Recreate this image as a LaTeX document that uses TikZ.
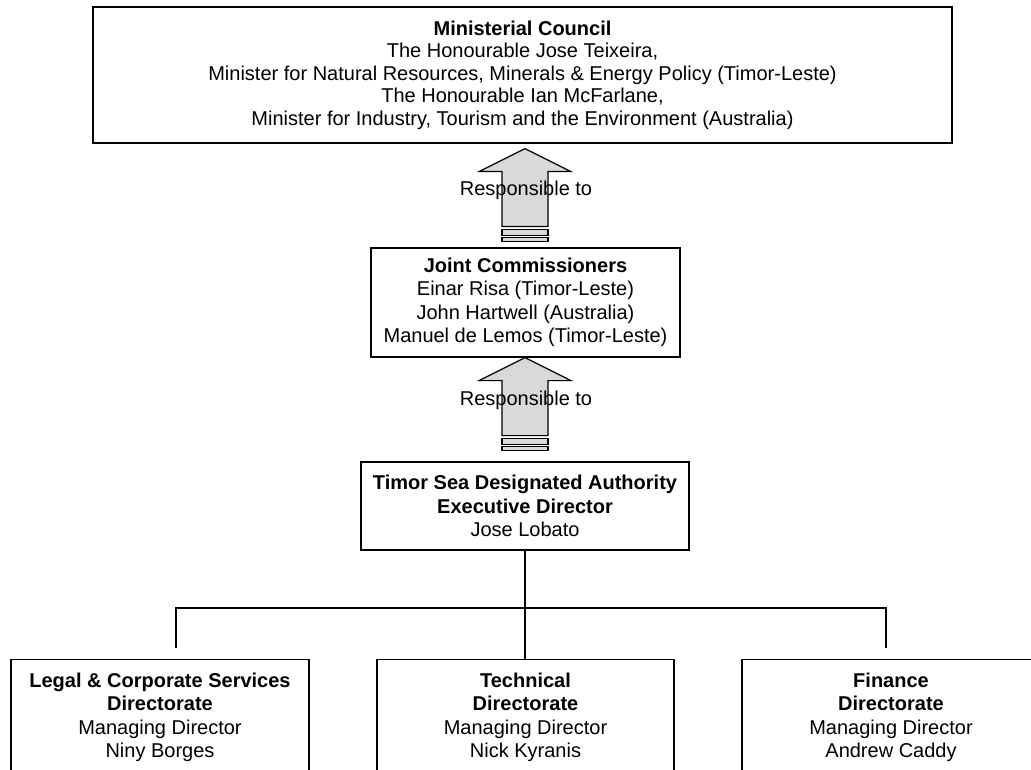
\documentclass[tikz,border=0pt]{standalone}
\usepackage{fontspec}
\setmainfont{Liberation Sans}
\usetikzlibrary{calc}
\tikzset{
  box/.style={draw=black, line width=1.2pt, align=center, inner sep=0pt, font=\fontsize{20}{23.5}\selectfont},
  lbl/.style={inner sep=0pt, font=\fontsize{20}{23.5}\selectfont},
  blockarrow/.style={draw=black, line width=1.2pt, fill=black!15, line join=miter},
  orgline/.style={draw=black, line width=1.2pt}
}
\newcommand{\respArrow}{%
  \path[blockarrow] (0,0) -- (-46,23) -- (-23,23) -- (-23,78) -- (23,78) -- (23,23) -- (46,23) -- cycle;
  \path[blockarrow] (-23,81) rectangle (23,87);
  \path[blockarrow] (-23,89) rectangle (23,93);
}
\begin{document}
\begin{tikzpicture}[x=1pt,y=-1pt]
\clip (0,0) rectangle (1031,770);
\fill[white] (0,0) rectangle (1031,770);

\node[box, font=\fontsize{20}{22.5}\selectfont, minimum width=859pt, minimum height=136pt] (mc) at (522.5,75)
 {\textbf{Ministerial Council}\\
  The Honourable Jose Teixeira,\\
  Minister for Natural Resources, Minerals \& Energy Policy (Timor-Leste)\\
  The Honourable Ian McFarlane,\\
  Minister for Industry, Tourism and the Environment (Australia)};

\node[box, minimum width=309pt, minimum height=109pt] (jc) at (525.5,302.5)
 {\textbf{Joint Commissioners}\\
  Einar Risa (Timor-Leste)\\
  John Hartwell (Australia)\\
  Manuel de Lemos (Timor-Leste)};

\node[box, minimum width=328pt, minimum height=88pt] (ts) at (525,506)
 {\textbf{Timor Sea Designated Authority}\\
  \textbf{Executive Director}\\
  Jose Lobato};

\coordinate (a1) at ($(mc.south)+(2.5,5)$);
\coordinate (a2) at ($(jc.south)+(-0.5,0)$);
\begin{scope}[shift={(a1)}]\respArrow\end{scope}
\begin{scope}[shift={(a2)}]\respArrow\end{scope}
\node[lbl] (r1) at (526,190) {Responsible to};
\node[lbl] (r2) at (526,400) {Responsible to};

\node[box, anchor=north, minimum width=298pt, minimum height=115pt] (legal) at (160,659)
 {\textbf{Legal \& Corporate Services}\\
  \textbf{Directorate}\\
  Managing Director\\
  Niny Borges};
\node[box, anchor=north, minimum width=297pt, minimum height=115pt] (tech) at (525.5,659)
 {\textbf{Technical}\\
  \textbf{Directorate}\\
  Managing Director\\
  Nick Kyranis};
\node[box, anchor=north, minimum width=298pt, minimum height=115pt] (fin) at (891,659)
 {\textbf{Finance}\\
  \textbf{Directorate}\\
  Managing Director\\
  Andrew Caddy};

\coordinate (hl) at (176,608);
\coordinate (hr) at (886,608);
\coordinate (dl) at (176,648);
\coordinate (dr) at (886,648);
\draw[orgline] (ts.south) -- (ts.south |- tech.north);
\draw[orgline] (dl) -- (hl) -- (hr) -- (dr);
\end{tikzpicture}
\end{document}
